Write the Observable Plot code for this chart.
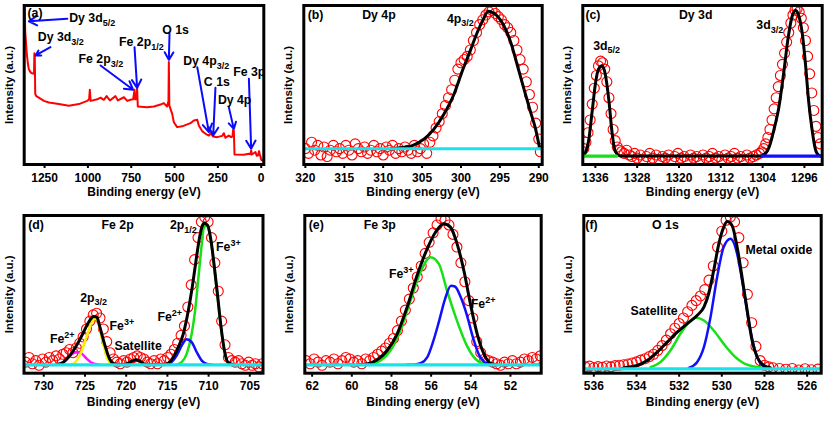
<!DOCTYPE html>
<html><head><meta charset="utf-8">
<script src="https://cdn.jsdelivr.net/npm/d3@7"></script>
<script src="https://cdn.jsdelivr.net/npm/@observablehq/plot@0.6"></script>
<style>
body{margin:0;background:#fff;}
#wrap{position:relative;width:830px;height:423px;overflow:hidden;background:#fff;}
.p{position:absolute;}
</style></head><body><div id="wrap"></div>
<script>
// ---------- (a) survey ----------
const aE = [1367,1364,1362,1358,1353,1347,1341,1334,1326,1311,1309,1306.5,1304,1298,1283,1254,1225,1168,1110,1052,1004,993,989,984,946,927,908,892,873,841,827,792,773,754,739,731,727,719,716,712,658,619,581,562,543,535,533,530,514,504,485,456,427,408,389,369,360,341,321,302,292,277,254,225,216,206,187,173,166,162,158,154,100,71,62,58,54,33,26,19,12,8,3,0,-6];
const aI = [96,99,84,78,70,64,60,58.5,57.5,57,70,69,44.5,43,42,40,39,38,37,38,40,41,47,40,41,42,40.7,43,40.3,43,40.3,42.3,40,40.7,41,47,41,41,48,36.5,36,36.5,37.7,38.6,36.5,40,64.4,37,32,26.6,23.5,24,25.2,26,27.7,28.1,24.5,21,19.3,18.2,19.7,17.6,17.2,18,19.7,16.8,18.2,17.2,17.5,21.8,21.5,6.3,6.1,6.7,6.5,8.8,6.3,7.8,5.5,5.7,8.4,6,4.6,3,2.5];
const aTicks = [1250,1000,750,500,250,0];
const aLabT = ["(a)","Dy 3d_{5/2}","Dy 3d_{3/2}","Fe 2p_{3/2}","Fe 2p_{1/2}","O 1s","Dy 4p_{3/2}","C 1s","Dy 4p","Fe 3p"];
const aLabE = [1348.5,1108,1289,1054,820,571,450,331,250,162];
const aLabI = [95,91.8,80,66,76.7,84.7,65,52,40.7,58];
const aArrE1 = [1119,1216,927,731,529,369,264,187,71];
const aArrI1 = [91.6,73.8,62.3,73.8,82.2,61.2,48.2,36.1,53.9];
const aArrE2 = [1341,1302,739,716,533,302,277,158,58];
const aArrI2 = [90.1,68.6,47,48.2,65.8,20.3,18.2,22.4,9.9];

// ---------- (b) Dy 4p ----------
const bDataE = [320.0,319.6,319.2,318.8,318.4,318.0,317.6,317.2,316.8,316.4,316.0,315.6,315.2,314.8,314.4,314.0,313.6,313.2,312.8,312.4,312.0,311.6,311.2,310.8,310.4,310.0,309.6,309.2,308.8,308.4,308.0,307.6,307.2,306.8,306.4,306.0,305.6,305.2,304.8,304.4,304.0,303.6,303.2,302.8,302.4,302.0,301.6,301.2,300.8,300.4,300.0,299.6,299.2,298.8,298.4,298.0,297.6,297.2,296.8,296.4,296.0,295.6,295.2,294.8,294.4,294.0,293.6,293.2,292.8,292.4,292.0,291.6,291.2,290.8,290.4,290.0,289.8];
const bDataI = [10,7,14,9,12,6,11,5,9,12,8,10,7,12,9,6,13,10,8,11,7,9,12,8,10,6,11,9,12,7,10,8,11,9,7,12,8,10,13,7,14,18,23,27,32,37,42,47,53,60,64,66,68,72,78,83,88,91,94,96,97,95,93,91,88,86,83,78,72,66,60,52,44,36,26,16,8];
const bFitE = [309,307.8,306.1,304.8,303.5,302.2,300.9,299.9,298.8,297.9,297.1,296.5,295.8,295.4,294.5,293.6,292.8,291.9,291.1,290.4,289.9];
const bFitI = [9.9,10.5,12.2,15.8,22.1,31.6,44.2,57.9,71.6,83.2,91.6,96.4,95.2,93.7,87.4,76.8,63.2,47.4,33.7,22.1,10.5];
const bBaseE = [320.2,289.56];
const bBaseI = [9.9,9.9];
const bTicks = [320,315,310,305,300,295,290];
const bLabT = ["(b)","Dy 4p","4p_{3/2}"];
const bLabE = [319.7,312.7,301.8];
const bLabI = [93.7,93.7,91.6];

// ---------- (c) Dy 3d ----------
const cDataE = [1338.2,1337.8,1337.4,1337.0,1336.6,1336.2,1335.8,1335.4,1335.0,1334.6,1334.2,1333.8,1333.4,1333.0,1332.6,1332.2,1331.8,1331.4,1331.0,1330.5,1330.0,1329.5,1329.0,1328.5,
1328.0,1327.4,1326.8,1326.2,1325.6,1325.0,1324.4,1323.8,1323.2,1322.6,1322.0,1321.4,1320.8,1320.2,1319.6,1319.0,1318.4,1317.8,1317.2,1316.6,1316.0,1315.4,1314.8,1314.2,1313.6,1313.0,1312.4,1311.8,1311.2,1310.6,1310.0,1309.4,1308.8,1308.2,1307.6,1307.0,1306.4,1305.8,1305.2,1304.6,
1304.2,1303.8,1303.4,1303.0,1302.6,1302.2,1301.8,1301.4,1301.0,1300.6,1300.2,1299.8,1299.4,1299.0,1298.6,1298.2,1297.8,1297.4,1297.0,1296.6,1296.2,1295.8,1295.4,1295.0,1294.6,1294.2,1293.8,1293.4,1293.0];
const cDataI = [10,14,20,28,38,48,56,62,65,64,60,52,42,32,22,15,11,9,8,7,9,6,5,7,
4,6,3,5,7,4,6,3,5,4,6,3,5,7,4,5,3,6,4,5,3,6,4,5,7,4,5,3,6,4,5,7,4,5,3,6,4,5,6,7,
8,10,13,17,22,28,35,42,49,56,63,70,77,83,89,94,97,98,96,92,86,78,68,57,45,34,24,17,13];
const cFitE = [1338.3,1337.9,1337.3,1336.6,1336.0,1335.4,1334.7,1334.1,1333.4,1332.8,1332.2,1331.2,1304.4,1303.8,1302.8,1301.9,1300.9,1300.0,1299.1,1298.4,1297.7,1297.1,1296.4,1295.8,1295.2,1294.5,1293.9,1293.3,1292.6];
const cFitI = [5.8,7.4,14.7,33.7,50.5,60,62.1,56.8,40,20,8.4,5.3,5.3,5.9,10.5,21,35.8,56.8,80,92.6,96.8,93.7,82.1,63.2,40,21,9.5,5.9,5.3];
const cGreenE = [1338.4,1331.9];
const cGreenI = [5.3,5.3];
const cBlueE = [1304.1,1292.6];
const cBlueI = [5.3,5.3];
const cTicks = [1336,1328,1320,1312,1304,1296];
const cLabT = ["(c)","Dy 3d","3d_{5/2}","3d_{3/2}"];
const cLabE = [1337.9,1320,1336.4,1305.2];
const cLabI = [93.7,93.7,74.8,87.4];

// ---------- (d) Fe 2p ----------
const dDataE = [732.20,731.79,731.38,730.97,730.56,730.15,729.74,729.33,728.92,728.51,728.10,727.69,727.28,726.87,726.46,726.05,725.64,725.23,724.82,724.41,724.00,723.59,723.18,722.77,722.36,721.95,721.54,721.13,720.72,720.31,719.90,719.49,719.08,718.67,718.26,717.85,717.44,717.03,716.62,716.21,715.80,715.39,714.98,714.57,714.16,713.75,713.34,712.93,712.52,712.11,711.70,711.29,710.88,710.47,710.06,709.65,709.24,708.83,708.42,708.01,707.60,707.19,706.78,706.37,705.96,705.55,705.14,704.73,704.32,703.91,703.50];
const dDataI = [7,10,6,8,5,9,7,10,8,11,9,12,13,15,13,16,19,23,28,33,37,38,35,28,20,13,9,7,6,8,7,9,10,11,10,9,7,6,8,6,9,8,10,12,15,19,24,30,42,56,72,86,96,99,96,86,70,52,33,18,10,8,7,8,6,5,7,5,6,4,6];
const dFitE = [728.43,727.62,727.01,726.40,725.79,725.18,724.56,723.95,723.55,723.24,722.63,722.02,721.41,720.80,719.99,719.17,718.76,718.36,717.54,715.51,714.90,714.29,713.68,713.07,712.46,712.05,711.64,711.23,710.83,710.52,710.11,709.71,709.30,708.89,708.49,708.08,707.67,707.06];
const dFitI = [5.5,7,10.1,14.4,19.7,26,32.3,35.9,35.5,30.2,18.6,9.1,5.9,5.5,5.9,8,8.5,7.6,5.5,5.5,6.3,10.1,16.5,25,39.7,52.4,67.2,82,92.6,95.1,93.7,84.1,67.2,48.2,29.2,14.4,7,5.5];
const dYelE = [726.60,725.99,725.38,724.77,724.16,723.75,723.34,723.04,722.63,722.22,721.82];
const dYelI = [5.5,8,14.4,23.9,32.3,34.5,31.3,23.9,15.4,8.5,5.9];
const dMagE = [728.23,727.62,727.01,726.40,725.89,725.38,724.77,724.16,723.34];
const dMagI = [5.5,7,10.1,12.7,13.5,12.3,9.1,6.6,5.5];
const dGrnE = [713.88,713.27,712.66,712.05,711.64,711.23,710.83,710.62,710.32,710.11,709.71,709.30,708.89,708.49,708.08,707.67,707.06];
const dGrnI = [5.5,7,12.3,25,39.7,60.9,82,91.5,93.5,93,83.7,66.8,47.8,28.8,14,6.8,5.3];
const dBluE = [715.10,714.49,713.88,713.27,712.66,712.05,711.44,710.83,710.22,709.61];
const dBluI = [5.5,7,11.2,17.5,21.6,19.7,13.3,8,5.9,5.3];
const dBaseE = [732.4,703.4];
const dBaseI = [5.3,5.3];
const dTicks = [730,725,720,715,710,705];
const dLabT = ["(d)","Fe 2p","2p_{1/2}","Fe^{3+}","2p_{3/2}","Fe^{3+}","Fe^{2+}","Satellite","Fe^{2+}"];
const dLabE = [731.89,722.99,714.69,709.10,725.58,722.02,729.25,721.41,716.21];
const dLabI = [93.7,93.7,93.7,80.3,47.8,30.2,21.8,17.5,35.5];

// ---------- (e) Fe 3p ----------
const eDataE = [62.3,62.1,61.9,61.7,61.5,61.3,61.1,60.9,60.7,60.5,60.3,60.1,59.9,59.7,59.5,59.3,59.1,58.9,58.7,58.5,58.3,58.1,57.9,57.7,57.5,57.3,57.1,56.9,56.7,56.5,56.3,56.1,55.9,55.7,55.5,55.3,55.1,54.9,54.7,54.5,54.3,54.1,53.9,53.7,53.5,53.3,53.1,52.9,52.7,52.5,52.3,52.1,51.9,51.7,51.5,51.3,51.1,50.9,50.7,50.5];
const eDataI = [8,6,9,7,5,8,7,9,6,8,10,9,7,8,6,9,8,10,12,14,16,19,22,27,33,40,47,54,61,68,76,83,89,94,98,97,94,88,80,70,58,46,35,20,13,9,8,7,6,5,7,6,8,6,7,9,8,10,9,11];
const eFitE = [59.7,59.23,58.72,58.22,57.71,57.21,56.71,56.20,55.78,55.36,55.03,54.69,54.35,54.02,53.68,53.34,53.01,52.67];
const eFitI = [5.3,5.9,8.5,14.4,25,41.9,61.9,78.9,89.4,94.7,92.6,82,65.1,44,25,12.3,6.3,5.3];
const eGrnE = [59.1,58.55,58.05,57.55,57.04,56.54,56.03,55.61,55.19,54.69,54.18,53.68,53.17,52.8];
const eGrnI = [5.5,8,14.4,27.1,46.1,64.1,73.6,69.3,52,33,17,8,5.5,5.3];
const eBluE = [57.2,56.8,56.5,56.2,55.9,55.6,55.3,55.0,54.8,54.5,54.2,53.9,53.6,53.3,52.9];
const eBluI = [5.3,5.6,6.5,10,20,33,47,55.5,55,48,37,23,12,7,5.3];
const eBaseE = [62.37,50.45];
const eBaseI = [5.3,5.3];
const eTicks = [62,60,58,56,54,52];
const eLabT = ["(e)","Fe 3p","Fe^{3+}","Fe^{2+}"];
const eLabE = [62.17,59.4,58.13,54.0];
const eLabI = [93.7,93.7,62.6,43.6];

// ---------- (f) O 1s ----------
const fDataE = [536.4,536.2,536.0,535.8,535.6,535.4,535.2,535.0,534.8,534.6,534.4,534.2,534.0,533.8,533.6,533.4,533.2,533.0,532.8,532.6,532.4,532.2,532.0,531.8,531.6,531.4,531.2,531.0,530.8,530.6,530.4,530.2,530.0,529.8,529.6,529.4,529.2,529.0,528.8,528.6,528.4,528.2,528.0,527.8,527.6,527.3,527.0,526.7,526.4,526.1,525.8,525.5];
const fDataI = [4,4.5,3.5,4.2,3.8,4.6,4,4.8,5,5.4,5.8,6.5,7.2,8.3,9.2,10.5,12,14.5,17.5,21,25,28.5,31.5,35,39,43,46,49,53,59,68,80,90,97,99,96,86,70,50,32,17,8,5,4,3.5,3,2.5,3,2,2.8,2.2,2.6];
const fFitE = [534.7,534.44,533.97,533.5,533.03,532.56,532.09,531.63,531.16,530.84,530.61,530.38,530.14,529.91,529.75,529.52,529.28,529.05,528.81,528.58,528.34,528.03,527.72];
const fFitI = [3,3.8,4.9,8,13.3,19.7,26,31.3,36.6,41.9,50.7,65.1,82,92.6,96.2,93.7,79.9,60.9,39.7,20.7,10.1,4.9,3.4];
const fBluE = [531.55,531.16,530.84,530.53,530.22,529.91,529.59,529.28,528.97,528.66,528.34,528.03];
const fBluI = [3.4,7,16.5,35.5,60.9,80,85.2,75.7,52.4,27.1,10.1,4.2];
const fGrnE = [533.34,532.88,532.41,531.94,531.55,531.23,530.84,530.38,529.91,529.44,528.97,528.5,528.03];
const fGrnI = [3.8,7,14.4,25,32.3,35.1,33.4,27.1,18.6,11.2,6.3,4.2,3.4];
const fBaseE = [536.47,525.34];
const fBaseI = [2.7,2.7];
const fTicks = [536,534,532,530,528,526];
const fLabT = ["(f)","O 1s","Metal oxide","Satellite"];
const fLabE = [536.4,533.27,528.89,534.28];
const fLabI = [93.7,93.7,77.8,39.3];

// ---------- helpers ----------
const RED = "#ff0000", BLACK = "#000000", GREEN = "#16e016", BLUE = "#1010ff",
      CYAN = "#19e3ea", YELLOW = "#f4f400", MAGENTA = "#ff10ff", ARROW = "#0a0aff";
const FONT = "'Liberation Sans', Arial, Helvetica, sans-serif";

function idx(a){ return a.map((_, i) => i); }
function dots(E, I){ return Plot.dot(idx(E), {x: E, y: I, r: 5, stroke: RED, strokeWidth: 1.1, fill: "none", clip: true}); }
function curve(E, I, color, w){ return Plot.line(idx(E), {x: E, y: I, stroke: color, strokeWidth: w, curve: "monotone-x", clip: true}); }
function flat(E, I, color){ return Plot.line(idx(E), {x: E, y: I, stroke: color, strokeWidth: 3.2, clip: true}); }

function richText(svg){
  svg.querySelectorAll("text").forEach(t => {
    const s = t.textContent;
    if (!/[_^]\{/.test(s)) return;
    const re = /([_^])\{([^}]*)\}/g;
    let last = 0, m; const parts = [];
    while ((m = re.exec(s))) {
      if (m.index > last) parts.push({k: "n", s: s.slice(last, m.index)});
      parts.push({k: m[1], s: m[2]});
      last = re.lastIndex;
    }
    if (last < s.length) parts.push({k: "n", s: s.slice(last)});
    while (t.firstChild) t.removeChild(t.firstChild);
    let shift = 0;
    for (const p of parts) {
      const ts = document.createElementNS("http://www.w3.org/2000/svg", "tspan");
      const target = p.k === "_" ? 3.5 : p.k === "^" ? -5 : 0;
      if (target !== shift) ts.setAttribute("dy", target - shift);
      shift = target;
      if (p.k !== "n") ts.setAttribute("font-size", 9);
      ts.textContent = p.s;
      t.appendChild(ts);
    }
  });
}

function panel(cfg){
  const marks = [
    ...cfg.marks,
    Plot.frame({stroke: BLACK, strokeWidth: 3}),
    Plot.axisX({ticks: cfg.ticks, tickSize: 4, tickPadding: 4.5, tickFormat: d => String(d), label: null, strokeWidth: 2}),
    Plot.text(["Binding energy (eV)"], {frameAnchor: "bottom", lineAnchor: "middle", textAnchor: "middle", dy: cfg.labDy, fontSize: 12, fontWeight: "bold"}),
    Plot.text(["Intensity (a.u.)"], {frameAnchor: "left", lineAnchor: "middle", textAnchor: "middle", rotate: -90, dx: -15, fontSize: 11.5, fontWeight: "bold"}),
    Plot.text(cfg.labT, {x: cfg.labE, y: cfg.labI, textAnchor: "start", lineAnchor: "middle", fontSize: 12.3, fontWeight: "bold", fill: BLACK})
  ];
  const svg = Plot.plot({
    width: cfg.w, height: cfg.h,
    marginLeft: cfg.ml, marginRight: cfg.mr, marginTop: cfg.mt, marginBottom: cfg.mb,
    x: {domain: cfg.domain},
    y: {domain: [0, 100], axis: null},
    style: {fontFamily: FONT, fontSize: "12px", fontWeight: "bold", color: "black", background: "transparent", overflow: "visible"},
    marks
  });
  richText(svg);
  const div = document.createElement("div");
  div.className = "p";
  div.style.left = cfg.left + "px";
  div.style.top = cfg.top + "px";
  div.appendChild(svg);
  document.getElementById("wrap").appendChild(div);
}

// (a)
panel({left: 0, top: 0, w: 270, h: 210, ml: 23.7, mr: 6.7, mt: 5, mb: 46, labDy: 28,
  domain: [1367.6, -15], ticks: aTicks, labT: aLabT, labE: aLabE, labI: aLabI,
  marks: [
    Plot.line(idx(aE), {x: aE, y: aI, stroke: RED, strokeWidth: 2, clip: true}),
    Plot.arrow(idx(aArrE1), {x1: aArrE1, y1: aArrI1, x2: aArrE2, y2: aArrI2, stroke: ARROW, strokeWidth: 2, headLength: 7})
  ]});

// (b)
panel({left: 270, top: 0, w: 280, h: 210, ml: 33.3, mr: 8.3, mt: 5, mb: 46, labDy: 28,
  domain: [320.2, 289.56], ticks: bTicks, labT: bLabT, labE: bLabE, labI: bLabI,
  marks: [dots(bDataE, bDataI), curve(bFitE, bFitI, BLACK, 3), flat(bBaseE, bBaseI, CYAN)]});

// (c)
panel({left: 550, top: 0, w: 280, h: 210, ml: 32.3, mr: 8.3, mt: 5, mb: 46, labDy: 28,
  domain: [1338.4, 1292.6], ticks: cTicks, labT: cLabT, labE: cLabE, labI: cLabI,
  marks: [dots(cDataE, cDataI), curve(cFitE, cFitI, BLACK, 3), flat(cGreenE, cGreenI, GREEN), flat(cBlueE, cBlueI, BLUE)]});

// (d)
panel({left: 0, top: 210, w: 270, h: 213, ml: 23.5, mr: 7.5, mt: 5, mb: 50.3, labDy: 28.5,
  domain: [732.4, 703.4], ticks: dTicks, labT: dLabT, labE: dLabE, labI: dLabI,
  marks: [dots(dDataE, dDataI),
    curve(dMagE, dMagI, MAGENTA, 2.5), curve(dYelE, dYelI, YELLOW, 2.5),
    curve(dGrnE, dGrnI, GREEN, 2.5), curve(dBluE, dBluI, BLUE, 2.5),
    curve(dFitE, dFitI, BLACK, 3), flat(dBaseE, dBaseI, CYAN)]});

// (e)
panel({left: 270, top: 210, w: 280, h: 213, ml: 34.3, mr: 9.3, mt: 5, mb: 50.3, labDy: 28.5,
  domain: [62.37, 50.45], ticks: eTicks, labT: eLabT, labE: eLabE, labI: eLabI,
  marks: [dots(eDataE, eDataI),
    curve(eGrnE, eGrnI, GREEN, 2.5), curve(eBluE, eBluI, BLUE, 2.5),
    curve(eFitE, eFitI, BLACK, 3), flat(eBaseE, eBaseI, CYAN)]});

// (f)
panel({left: 550, top: 210, w: 280, h: 213, ml: 33.3, mr: 9.3, mt: 5, mb: 50.3, labDy: 28.5,
  domain: [536.47, 525.34], ticks: fTicks, labT: fLabT, labE: fLabE, labI: fLabI,
  marks: [dots(fDataE, fDataI),
    curve(fGrnE, fGrnI, GREEN, 2.5), curve(fBluE, fBluI, BLUE, 2.5),
    curve(fFitE, fFitI, BLACK, 3), flat(fBaseE, fBaseI, CYAN)]});
</script>
</body></html>
